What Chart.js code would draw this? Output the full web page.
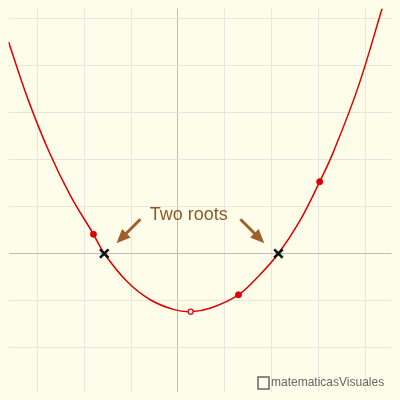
<!DOCTYPE html>
<html>
<head>
<meta charset="utf-8">
<script src="https://cdn.jsdelivr.net/npm/chart.js@4"></script>
<style>
  body { margin: 0; background: #fdfde9; }
  #wrap { width: 400px; height: 400px; }
</style>
</head>
<body>
<div id="wrap"><canvas id="c"></canvas></div>
<script>
// curve (x, y in grid units)
const curveX = [-3.61, -3.2, -2.76, -2.3, -1.80, -1.57, -1.1, -0.6, -0.1, 0.27, 0.7, 1.29, 1.7, 2.14, 2.6, 3.02, 3.31, 3.84, 4.35];
const curveY = [4.51, 3.3, 2.2, 1.25, 0.41, 0.0, -0.58, -0.98, -1.19, -1.24, -1.16, -0.88, -0.5, 0.0, 0.7, 1.53, 2.16, 3.55, 5.22];
const dotX = [-1.80, 1.29, 3.02];
const dotY = [0.41, -0.88, 1.53];
const vertex = [0.27, -1.24];
const rootsX = [-1.57, 2.14];
const xRange = [-3.61, 4.55];
const yRange = [-2.94, 5.22];
const label = "Two roots";

const toPts = (xs, ys) => xs.map((x, i) => ({ x: x, y: ys[i] }));
const intTicks = (min, max) => {
  const t = [];
  for (let v = Math.ceil(min); v <= max; v++) t.push({ value: v });
  return t;
};

const bgPlugin = {
  id: 'bg',
  beforeDraw: (chart) => {
    const { ctx, width, height } = chart;
    ctx.save();
    ctx.fillStyle = '#fdfde9';
    ctx.fillRect(0, 0, width, height);
    ctx.restore();
  }
};

const notesPlugin = {
  id: 'notes',
  afterDatasetsDraw: (chart) => {
    const { ctx, scales: { x, y } } = chart;
    const arrow = (x0, y0, x1, y1) => {
      const a = [x.getPixelForValue(x0), y.getPixelForValue(y0)];
      const b = [x.getPixelForValue(x1), y.getPixelForValue(y1)];
      const ang = Math.atan2(b[1] - a[1], b[0] - a[0]);
      ctx.strokeStyle = '#a0602c';
      ctx.fillStyle = '#a0602c';
      ctx.lineWidth = 3;
      ctx.beginPath();
      ctx.moveTo(a[0], a[1]);
      ctx.lineTo(b[0] - 8 * Math.cos(ang), b[1] - 8 * Math.sin(ang));
      ctx.stroke();
      ctx.beginPath();
      ctx.moveTo(b[0], b[1]);
      ctx.lineTo(b[0] - 14 * Math.cos(ang) + 6 * Math.sin(ang), b[1] - 14 * Math.sin(ang) - 6 * Math.cos(ang));
      ctx.lineTo(b[0] - 14 * Math.cos(ang) - 6 * Math.sin(ang), b[1] - 14 * Math.sin(ang) + 6 * Math.cos(ang));
      ctx.closePath();
      ctx.fill();
    };
    ctx.save();
    arrow(-0.8, 0.73, -1.31, 0.22);
    arrow(1.33, 0.73, 1.84, 0.22);
    ctx.fillStyle = '#8b5a2b';
    ctx.font = '18px "Liberation Sans", Arial, sans-serif';
    ctx.textAlign = 'center';
    ctx.textBaseline = 'middle';
    ctx.fillText(label, x.getPixelForValue(0.23), y.getPixelForValue(0.83));
    // watermark
    ctx.fillStyle = '#666';
    ctx.font = '12px "Liberation Sans", Arial, sans-serif';
    ctx.textAlign = 'left';
    ctx.fillText('matematicasVisuales', 271, 383);
    ctx.strokeStyle = '#666';
    ctx.lineWidth = 1.5;
    ctx.strokeRect(258, 377, 11, 12);
    ctx.restore();
  }
};

const gridColor = (c) => c.tick.value === 0 ? '#bdbdbd' : '#e6e6e0';

new Chart(document.getElementById('c'), {
  type: 'scatter',
  data: {
    datasets: [
      { data: toPts(curveX, curveY), showLine: true, borderColor: '#e00000', borderWidth: 1.5, pointRadius: 0, tension: 0.4, order: 3 },
      { data: toPts(dotX, dotY), pointRadius: 3, pointBackgroundColor: '#e00000', pointBorderColor: '#e00000', order: 2 },
      { data: [{ x: vertex[0], y: vertex[1] }], pointRadius: 2.5, pointBackgroundColor: '#ffffff', pointBorderColor: '#e00000', pointBorderWidth: 1.2, order: 2 },
      { data: rootsX.map(v => ({ x: v, y: 0 })), pointStyle: 'crossRot', pointRadius: 6, pointBorderColor: '#111', pointBorderWidth: 2.5, order: 1 }
    ]
  },
  options: {
    responsive: true,
    maintainAspectRatio: false,
    animation: false,
    layout: { padding: 0 },
    plugins: { legend: { display: false }, tooltip: { enabled: false } },
    scales: {
      x: {
        min: xRange[0], max: xRange[1],
        afterBuildTicks: (s) => { s.ticks = intTicks(xRange[0], xRange[1]); },
        afterFit: (s) => { s.height = 0; s.paddingLeft = 0; s.paddingRight = 0; },
        ticks: { display: false, padding: 0 },
        border: { display: false },
        grid: { color: gridColor, lineWidth: 1, drawTicks: false, tickLength: 0 }
      },
      y: {
        min: yRange[0], max: yRange[1],
        afterBuildTicks: (s) => { s.ticks = intTicks(yRange[0], yRange[1]); },
        afterFit: (s) => { s.width = 0; s.paddingTop = 0; s.paddingBottom = 0; },
        ticks: { display: false, padding: 0 },
        border: { display: false },
        grid: { color: gridColor, lineWidth: 1, drawTicks: false, tickLength: 0 }
      }
    }
  },
  plugins: [bgPlugin, notesPlugin]
});
</script>
</body>
</html>
